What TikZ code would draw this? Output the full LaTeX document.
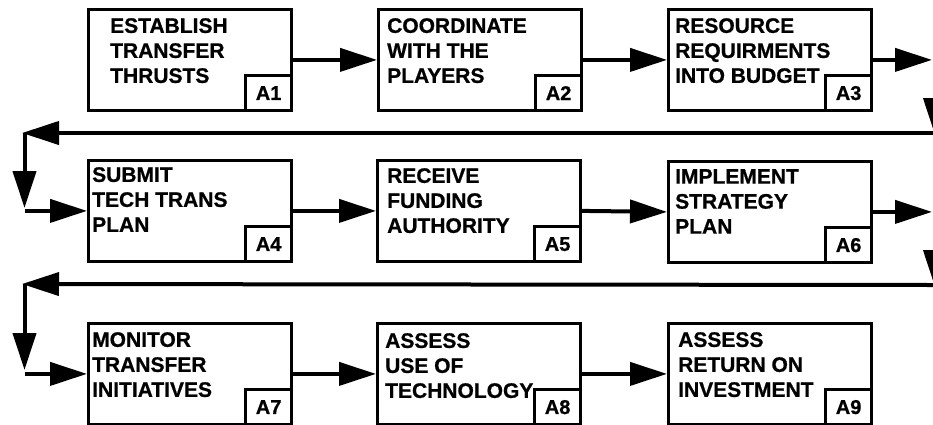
\documentclass[tikz,border=0pt]{standalone}
\usepackage{fontspec}
\setmainfont{Liberation Sans}
\newfontfamily\heavyfont{Liberation Sans Bold}[FakeBold=0.8]
\usetikzlibrary{arrows.meta}
\begin{document}
\begin{tikzpicture}[x=1pt,y=-1pt,
  stepbox/.style={draw, line width=2.8pt, minimum width=203pt, minimum height=101pt, inner sep=0pt, anchor=north west},
  tagbox/.style={draw, line width=2.4pt, minimum width=46pt, minimum height=35pt, inner sep=0pt, anchor=south east, font=\fontsize{20}{22}\selectfont\heavyfont},
  steptext/.style={anchor=north west, inner sep=0pt, align=left, font=\fontsize{21}{25}\selectfont\heavyfont},
  flow/.style={line width=4pt, -{Triangle[length=37pt,width=23pt]}},
]
\clip (0,0) rectangle (933,424);
\fill[white] (0,0) rectangle (933,424);

% boxes
\node[stepbox] (A1) at (87,8) {};
\node[stepbox] (A2) at (377,8) {};
\node[stepbox] (A3) at (667,8) {};
\node[stepbox] (A4) at (87,159) {};
\node[stepbox] (A5) at (376,159) {};
\node[stepbox] (A6) at (667,160) {};
\node[stepbox] (A7) at (87,322) {};
\node[stepbox] (A8) at (376,322) {};
\node[stepbox] (A9) at (667,322) {};

% texts
\node[steptext] (t1) at (110,18) {ESTABLISH\\TRANSFER\\THRUSTS};
\node[steptext] (t2) at (387,18) {COORDINATE\\WITH THE\\PLAYERS};
\node[steptext] (t3) at (675,18) {RESOURCE\\REQUIRMENTS\\INTO BUDGET};
\node[steptext] (t4) at (92,167) {SUBMIT\\TECH TRANS\\PLAN};
\node[steptext] (t5) at (387,168) {RECEIVE\\FUNDING\\AUTHORITY};
\node[steptext] (t6) at (675,169) {IMPLEMENT\\STRATEGY\\PLAN};
\node[steptext] (t7) at (92,332) {MONITOR\\TRANSFER\\INITIATIVES};
\node[steptext] (t8) at (385,333) {ASSESS\\USE OF\\TECHNOLOGY};
\node[steptext] (t9) at (678,332) {ASSESS\\RETURN ON\\INVESTMENT};

% tags
\node[tagbox,fill=white] (g1) at (A1.south east) {A1};
\node[tagbox,fill=white] (g2) at (A2.south east) {A2};
\node[tagbox,fill=white] (g3) at (A3.south east) {A3};
\node[tagbox,fill=white] (g4) at (A4.south east) {A4};
\node[tagbox,fill=white] (g5) at (A5.south east) {A5};
\node[tagbox,fill=white] (g6) at (A6.south east) {A6};
\node[tagbox,fill=white] (g7) at (A7.south east) {A7};
\node[tagbox] (g8) at (A8.south east) {A8};
\node[tagbox,fill=white] (g9) at (A9.south east) {A9};

% turn points
\coordinate (e1) at (932,59);
\coordinate (v1) at (935,133);
\coordinate (w1) at (22,133);
\coordinate (s1) at (24.5,133);
\coordinate (d1) at (24.5,208);
\coordinate (e2) at (932,210);
\coordinate (v2) at (935,285);
\coordinate (w2) at (22,284);
\coordinate (s2) at (24.5,284);
\coordinate (d2) at (24.5,370);

% connectors
\draw[flow] (A1.east) -- (A2.west);
\draw[flow] (A2.east) -- (A3.west);
\draw[flow] (A3.east) -- (A3.east -| e1);
\draw[flow] (v1 |- A3.east) -- ([yshift=-2pt]v1);
\draw[flow] (v1) -- (w1);
\draw[flow] (s1) -- (d1);
\draw[flow] (d1 |- A4.west) -- (A4.west);
\draw[flow] (A4.east) -- (A5.west);
\draw[flow] (A5.east) -- (A6.west);
\draw[flow] (A6.east) -- (A6.east -| e2);
\draw[flow] (v2 |- A6.east) -- ([yshift=-2pt]v2);
\draw[flow] (v2) -- (w2);
\draw[flow] (s2) -- (d2);
\draw[flow] (d2 |- A7.west) -- (A7.west);
\draw[flow] (A7.east) -- (A8.west);
\draw[flow] (A8.east) -- (A9.west);
\end{tikzpicture}
\end{document}
